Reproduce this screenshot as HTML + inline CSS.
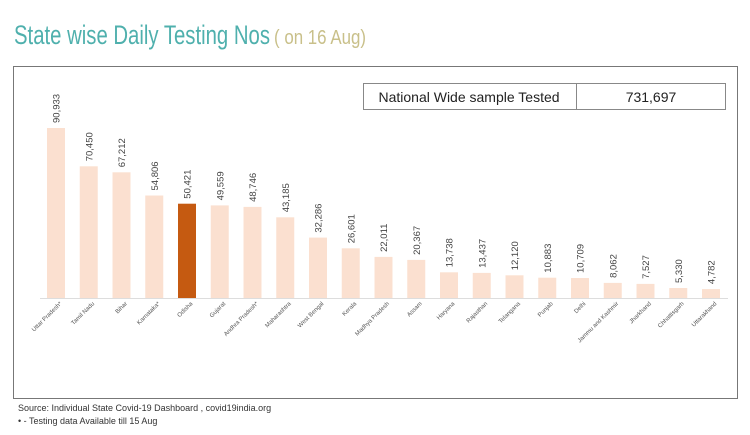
<!DOCTYPE html>
<html><head><meta charset="utf-8"><style>
body{margin:0;background:#fff;width:750px;height:430px;overflow:hidden;font-family:"Liberation Sans",sans-serif}
.v{font-size:9.5px;fill:#444}
.l{font-size:6px;fill:#555;text-anchor:end}
.b{fill:#fbe0d0}
</style></head><body>
<svg width="750" height="430" xmlns="http://www.w3.org/2000/svg" font-family="Liberation Sans, sans-serif">
<text x="14" y="44" font-size="27" fill="#4fb0ad" textLength="256" lengthAdjust="spacingAndGlyphs">State wise Daily Testing Nos</text>
<text x="274" y="44" font-size="20" fill="#c9c08a" textLength="92" lengthAdjust="spacingAndGlyphs">( on 16 Aug)</text>
<rect x="13.5" y="66.5" width="724" height="332" fill="none" stroke="#777" stroke-width="1"/>
<rect x="363.5" y="83.5" width="362" height="26" fill="none" stroke="#888"/>
<line x1="576.5" y1="83.5" x2="576.5" y2="109.5" stroke="#888"/>
<text x="469" y="102" font-size="14" text-anchor="middle" fill="#222">National Wide sample Tested</text>
<text x="651" y="102" font-size="14" text-anchor="middle" fill="#222">731,697</text>
<line x1="40" y1="298.5" x2="728" y2="298.5" stroke="#ddd"/>

<g transform="translate(56,0)"><rect class="b" x="-9" y="128" width="18" height="170"/><text class="v" transform="translate(3.5,123) rotate(-90)">90,933</text><text class="l" transform="translate(6,304) rotate(-45)">Uttar Pradesh*</text></g>
<g transform="translate(88.75,0)"><rect class="b" x="-9" y="166.3" width="18" height="131.7"/><text class="v" transform="translate(3.5,161.3) rotate(-90)">70,450</text><text class="l" transform="translate(6,304) rotate(-45)">Tamil Nadu</text></g>
<g transform="translate(121.5,0)"><rect class="b" x="-9" y="172.3" width="18" height="125.7"/><text class="v" transform="translate(3.5,167.3) rotate(-90)">67,212</text><text class="l" transform="translate(6,304) rotate(-45)">Bihar</text></g>
<g transform="translate(154.25,0)"><rect class="b" x="-9" y="195.5" width="18" height="102.5"/><text class="v" transform="translate(3.5,190.5) rotate(-90)">54,806</text><text class="l" transform="translate(6,304) rotate(-45)">Karnataka*</text></g>
<g transform="translate(187,0)"><rect fill="#c55a11" x="-9" y="203.7" width="18" height="94.3"/><text class="v" transform="translate(3.5,198.7) rotate(-90)">50,421</text><text class="l" transform="translate(6,304) rotate(-45)">Odisha</text></g>
<g transform="translate(219.75,0)"><rect class="b" x="-9" y="205.4" width="18" height="92.6"/><text class="v" transform="translate(3.5,200.4) rotate(-90)">49,559</text><text class="l" transform="translate(6,304) rotate(-45)">Gujarat</text></g>
<g transform="translate(252.5,0)"><rect class="b" x="-9" y="206.9" width="18" height="91.1"/><text class="v" transform="translate(3.5,201.9) rotate(-90)">48,746</text><text class="l" transform="translate(6,304) rotate(-45)">Andhra Pradesh*</text></g>
<g transform="translate(285.25,0)"><rect class="b" x="-9" y="217.3" width="18" height="80.7"/><text class="v" transform="translate(3.5,212.3) rotate(-90)">43,185</text><text class="l" transform="translate(6,304) rotate(-45)">Maharashtra</text></g>
<g transform="translate(318,0)"><rect class="b" x="-9" y="237.6" width="18" height="60.4"/><text class="v" transform="translate(3.5,232.6) rotate(-90)">32,286</text><text class="l" transform="translate(6,304) rotate(-45)">West Bengal</text></g>
<g transform="translate(350.75,0)"><rect class="b" x="-9" y="248.3" width="18" height="49.7"/><text class="v" transform="translate(3.5,243.3) rotate(-90)">26,601</text><text class="l" transform="translate(6,304) rotate(-45)">Kerala</text></g>
<g transform="translate(383.5,0)"><rect class="b" x="-9" y="256.9" width="18" height="41.1"/><text class="v" transform="translate(3.5,251.9) rotate(-90)">22,011</text><text class="l" transform="translate(6,304) rotate(-45)">Madhya Pradesh</text></g>
<g transform="translate(416.25,0)"><rect class="b" x="-9" y="259.9" width="18" height="38.1"/><text class="v" transform="translate(3.5,254.9) rotate(-90)">20,367</text><text class="l" transform="translate(6,304) rotate(-45)">Assam</text></g>
<g transform="translate(449,0)"><rect class="b" x="-9" y="272.3" width="18" height="25.7"/><text class="v" transform="translate(3.5,267.3) rotate(-90)">13,738</text><text class="l" transform="translate(6,304) rotate(-45)">Haryana</text></g>
<g transform="translate(481.75,0)"><rect class="b" x="-9" y="272.9" width="18" height="25.1"/><text class="v" transform="translate(3.5,267.9) rotate(-90)">13,437</text><text class="l" transform="translate(6,304) rotate(-45)">Rajasthan</text></g>
<g transform="translate(514.5,0)"><rect class="b" x="-9" y="275.3" width="18" height="22.7"/><text class="v" transform="translate(3.5,270.3) rotate(-90)">12,120</text><text class="l" transform="translate(6,304) rotate(-45)">Telangana</text></g>
<g transform="translate(547.25,0)"><rect class="b" x="-9" y="277.7" width="18" height="20.3"/><text class="v" transform="translate(3.5,272.7) rotate(-90)">10,883</text><text class="l" transform="translate(6,304) rotate(-45)">Punjab</text></g>
<g transform="translate(580,0)"><rect class="b" x="-9" y="278" width="18" height="20"/><text class="v" transform="translate(3.5,273) rotate(-90)">10,709</text><text class="l" transform="translate(6,304) rotate(-45)">Delhi</text></g>
<g transform="translate(612.75,0)"><rect class="b" x="-9" y="282.9" width="18" height="15.1"/><text class="v" transform="translate(3.5,277.9) rotate(-90)">8,062</text><text class="l" transform="translate(6,304) rotate(-45)">Jammu and Kashmir</text></g>
<g transform="translate(645.5,0)"><rect class="b" x="-9" y="283.9" width="18" height="14.1"/><text class="v" transform="translate(3.5,278.9) rotate(-90)">7,527</text><text class="l" transform="translate(6,304) rotate(-45)">Jharkhand</text></g>
<g transform="translate(678.25,0)"><rect class="b" x="-9" y="288" width="18" height="10"/><text class="v" transform="translate(3.5,283) rotate(-90)">5,330</text><text class="l" transform="translate(6,304) rotate(-45)">Chhattisgarh</text></g>
<g transform="translate(711,0)"><rect class="b" x="-9" y="289.1" width="18" height="8.9"/><text class="v" transform="translate(3.5,284.1) rotate(-90)">4,782</text><text class="l" transform="translate(6,304) rotate(-45)">Uttarakhand</text></g>

<text x="18" y="411" font-size="9" fill="#333">Source: Individual State Covid-19 Dashboard , covid19india.org</text>
<text x="18" y="424" font-size="9" fill="#333">•   - Testing data Available till 15 Aug</text>
</svg>
</body></html>
